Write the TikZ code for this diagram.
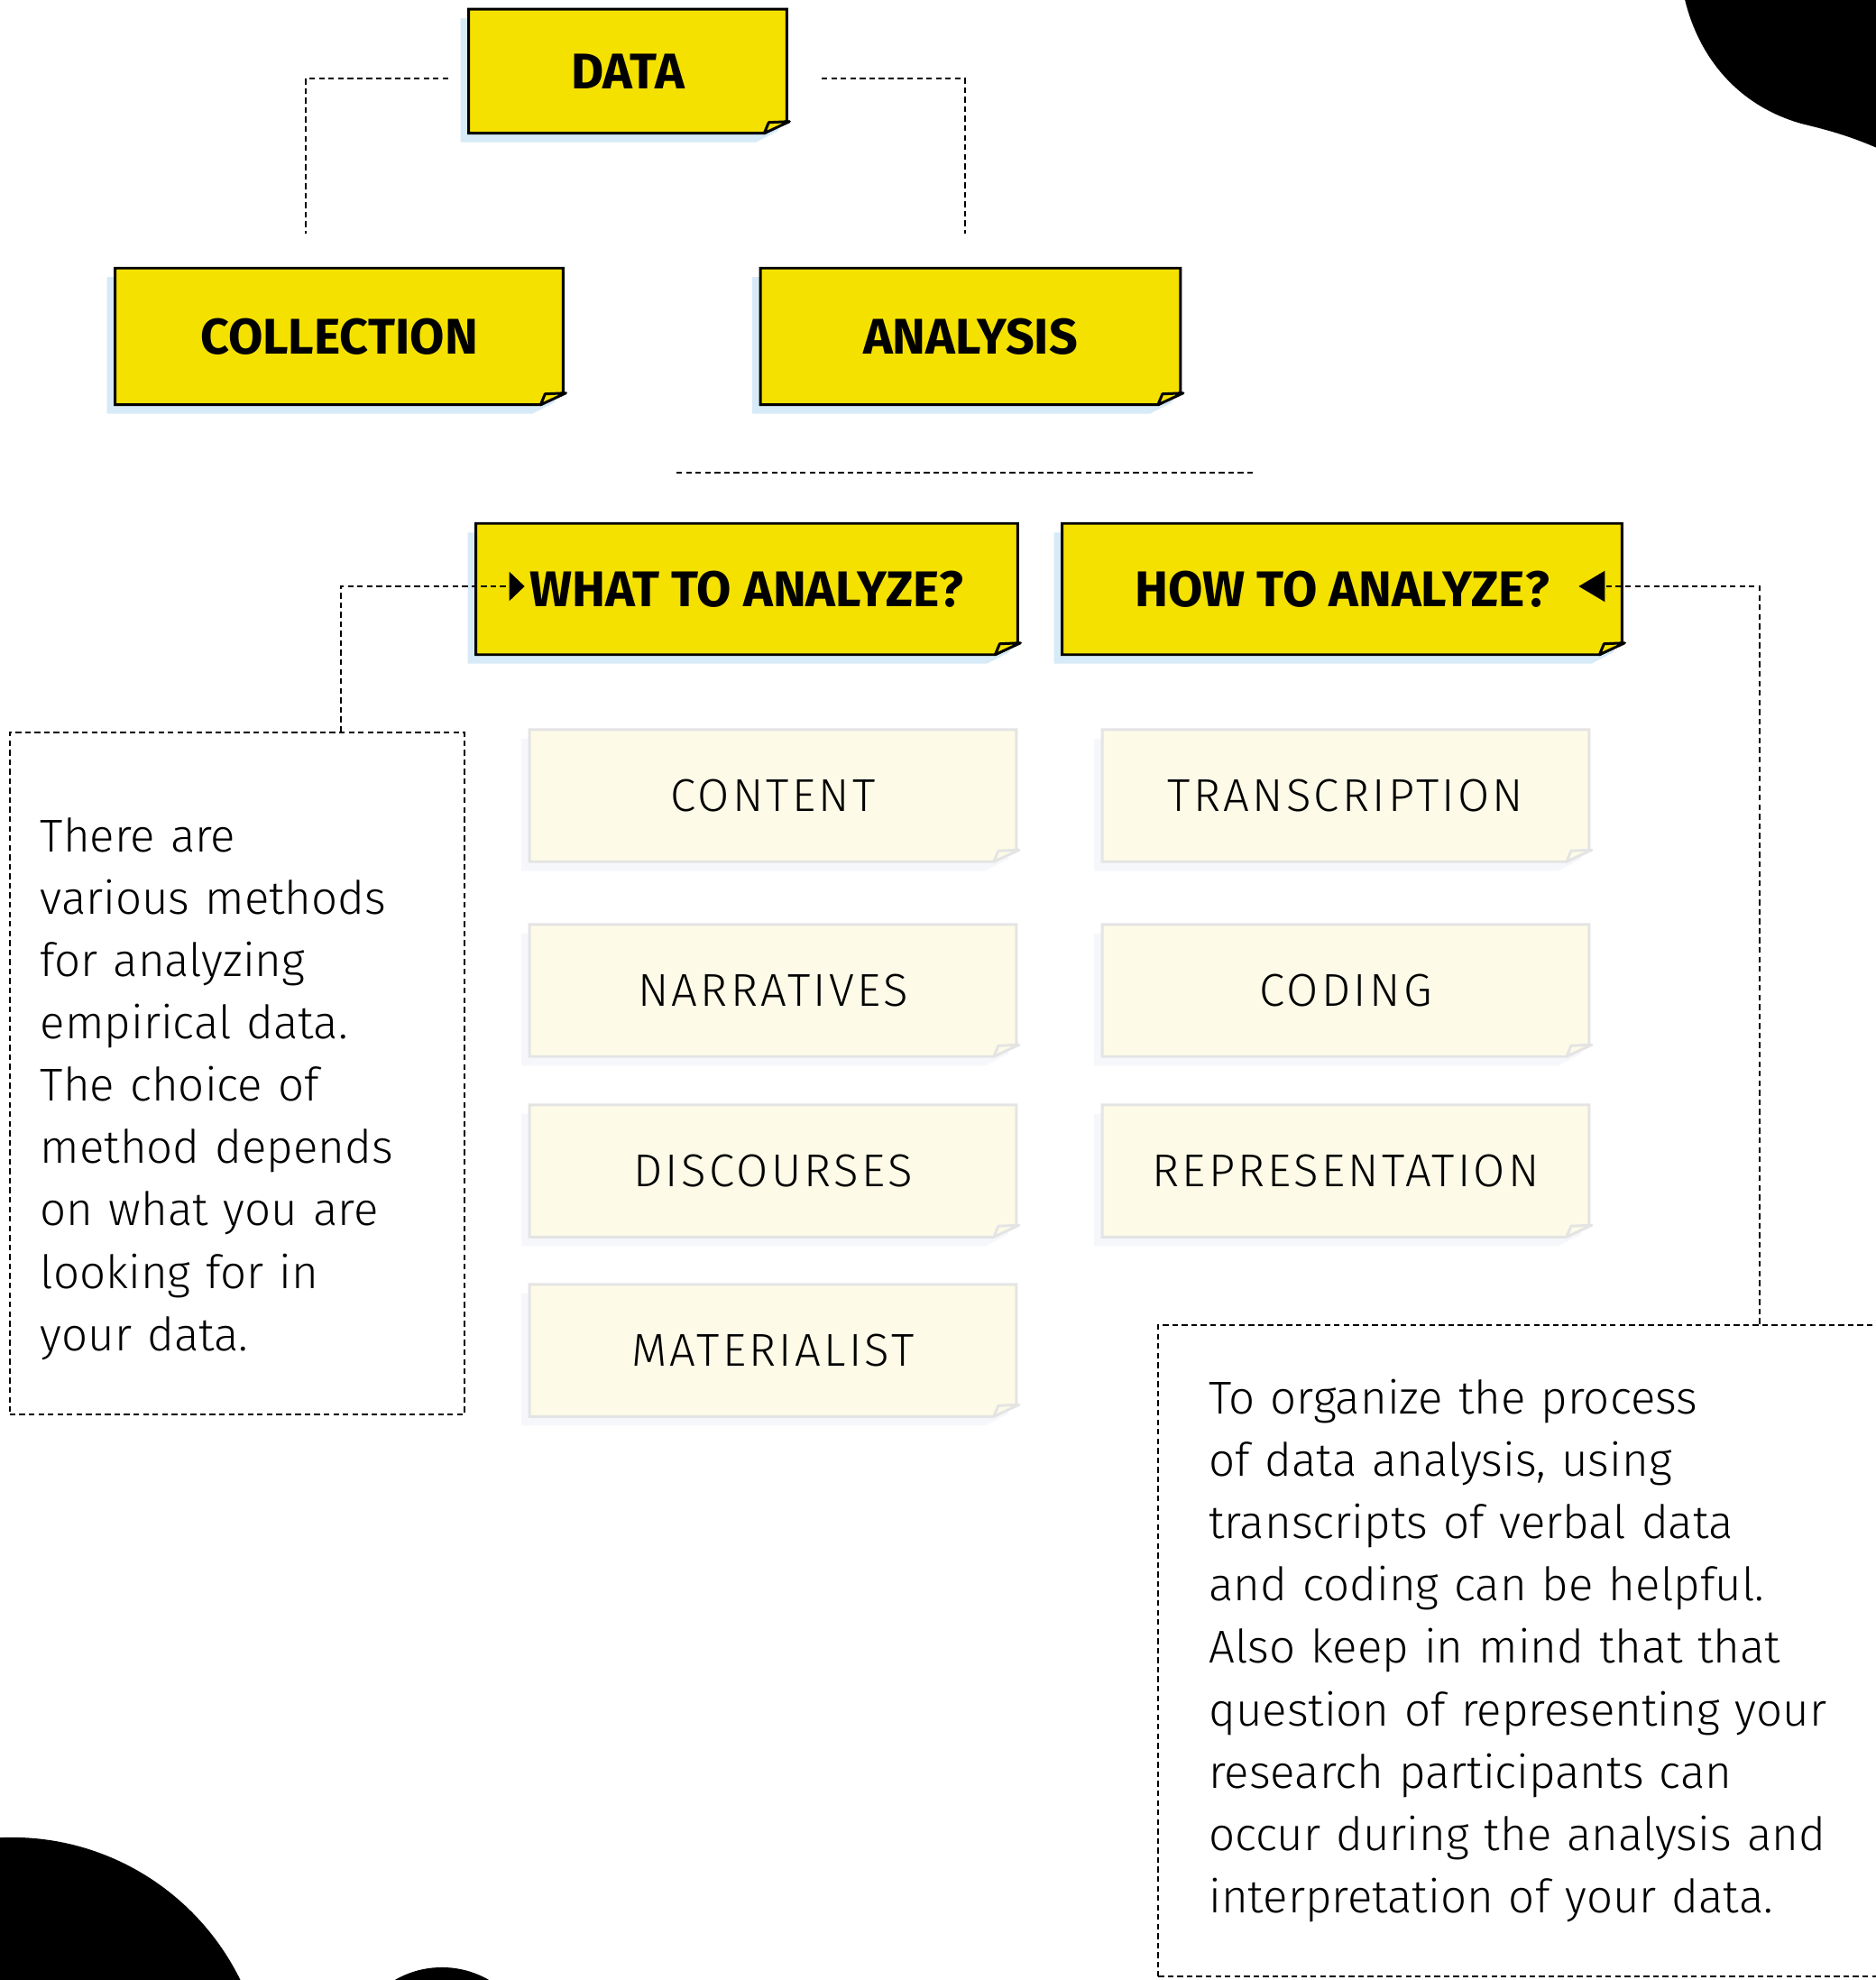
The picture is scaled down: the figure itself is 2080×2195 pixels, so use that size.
\documentclass[tikz,border=0pt]{standalone}
\usepackage{fontspec}
\IfFontExistsTF{Fira Sans Light}
  {\newfontfamily\lightfont{Fira Sans Light}
   \newfontfamily\trackfont{Fira Sans Light}[LetterSpace=6.4]}
  {\newfontfamily\lightfont{Fira Sans}
   \newfontfamily\trackfont{Fira Sans}[LetterSpace=6.4]}
\newfontfamily\heavyfont{Fira Sans}[UprightFont=*, BoldFont=* Bold]
\usepackage{tikz}
\usetikzlibrary{arrows.meta, positioning, calc, backgrounds}

\definecolor{noteyellow}{HTML}{F5E100}
\definecolor{noteshadow}{HTML}{D7EAF7}
\definecolor{paleyellow}{HTML}{FDFBE7}
\definecolor{palegrey}{HTML}{E4E4E4}
\definecolor{paleshadow}{HTML}{F6F7FB}

\begin{document}
\begin{tikzpicture}[
  x=0.01cm, y=-0.01cm,
  ynote/.style = {rectangle, inner sep=0pt, font=\heavyfont\bfseries\fontsize{15.8}{18}\selectfont},
  pnote/.style = {rectangle, inner sep=0pt, minimum width=5.38cm, minimum height=1.45cm,
                  font=\trackfont\fontsize{14.5}{18}\selectfont},
  link/.style  = {draw, line width=0.6pt, dash pattern=on 1.8pt off 1.2pt},
  memo/.style  = {link, rectangle, inner sep=0pt, align=left,
                  font=\lightfont\fontsize{14.5}{19.64}\selectfont},
]
  \useasboundingbox (0,0) rectangle (2080,2195);
  \clip (0,0) rectangle (2080,2195);

  % yellow notes
  \node[ynote, minimum width=3.51cm, minimum height=1.36cm] (data) at (696,79)   {DATA};
  \node[ynote, minimum width=4.95cm, minimum height=1.50cm] (coll) at (376,373)  {COLLECTION};
  \node[ynote, minimum width=4.64cm, minimum height=1.50cm] (anal) at (1076,373) {ANALYSIS};
  \node[ynote, minimum width=5.99cm, minimum height=1.44cm] (what) at (828,653)  {WHAT TO ANALYZE?};
  \node[ynote, minimum width=6.19cm, minimum height=1.44cm] (how)  at (1488,653) {HOW TO ANALYZE?};

  % pale notes
  \node[pnote] (content)  at (857,882)  {CONTENT};
  \node[pnote] (narr)     at (857,1098) {NARRATIVES};
  \node[pnote] (disc)     at (857,1298) {DISCOURSES};
  \node[pnote] (material) at (857,1497) {MATERIALIST};
  \node[pnote] (transc)   at (1492,882)  {TRANSCRIPTION};
  \node[pnote] (coding)   at (1492,1098) {CODING};
  \node[pnote] (repres)   at (1492,1298) {REPRESENTATION};

  % side notes
  \node[memo, minimum width=5.04cm, minimum height=7.55cm, text width=4.36cm] (whatmemo) at (263,1190)
    {\rule{0pt}{0.72cm}There are\\various methods\\for analyzing\\empirical data.\\The choice of\\method depends\\on what you are\\looking for in\\your data.};
  \node[memo, minimum width=8.15cm, minimum height=7.22cm, text width=7.03cm] (howmemo) at (1692,1830)
    {To organize the process\\of data analysis, using\\transcripts of verbal data\\and coding can be helpful.\\Also keep in mind that that\\question of representing your\\research participants can\\occur during the analysis and\\interpretation of your data.};

  \begin{scope}[on background layer]
    \fill[white] (0,0) rectangle (2080,2195);
    \foreach \n in {data, coll, anal, what, how} {
      \fill[noteshadow] ($(\n.north west)+(-9,10)$) -- ($(\n.north east)+(-9,10)$)
        -- ($(\n.south east)+(-9,-3)$) -- ($(\n.south east)+(-34,10)$) -- ($(\n.south west)+(-9,10)$) -- cycle;
      \filldraw[fill=noteyellow, line width=0.85pt] (\n.north west) -- (\n.north east)
        -- ($(\n.south east)+(0,-13)$) -- ($(\n.south east)+(-25,0)$) -- (\n.south west) -- cycle;
      \filldraw[fill=noteyellow, line width=0.85pt, line join=round] ($(\n.south east)+(-25,0)$)
        -- ($(\n.south east)+(-20,-12)$) -- ($(\n.south east)+(3,-13)$) -- cycle;
    }
    \foreach \n in {content, narr, disc, material, transc, coding, repres} {
      \fill[paleshadow] ($(\n.north west)+(-9,10)$) -- ($(\n.north east)+(-9,10)$)
        -- ($(\n.south east)+(-9,-3)$) -- ($(\n.south east)+(-34,10)$) -- ($(\n.south west)+(-9,10)$) -- cycle;
      \filldraw[fill=paleyellow, draw=palegrey, line width=0.85pt] (\n.north west) -- (\n.north east)
        -- ($(\n.south east)+(0,-13)$) -- ($(\n.south east)+(-25,0)$) -- (\n.south west) -- cycle;
      \filldraw[fill=paleyellow, draw=palegrey, line width=0.85pt, line join=round] ($(\n.south east)+(-25,0)$)
        -- ($(\n.south east)+(-20,-12)$) -- ($(\n.south east)+(3,-13)$) -- cycle;
    }
  \end{scope}

  % connectors
  \coordinate (dataL) at (497,87);
  \coordinate (collT) at (339,259);
  \coordinate (dataR) at (911,87);
  \coordinate (analT) at (1070,259);
  \coordinate (splitL) at (750,524);
  \coordinate (splitR) at (1393,524);
  \draw[link] (dataL) -| (collT);
  \draw[link] (dataR) -| (analT);
  \draw[link] (splitL) -- (splitR);
  \draw[link, -{Triangle[length=0.17cm, width=0.32cm]}]
    ([xshift=3.68cm]whatmemo.north west) |- ([xshift=0.54cm, yshift=0.03cm]what.west);
  \draw[link, -{Triangle[length=0.29cm, width=0.34cm]}]
    ([xshift=6.67cm]howmemo.north west) |- ([xshift=-0.48cm, yshift=0.03cm]how.east);

  % corner blobs
  \fill (1867,-5) .. controls (1880,55) and (1920,115) .. (1997,137)
    .. controls (2030,145) and (2055,152) .. (2090,168) -- (2090,-5) -- cycle;
  \fill (13,2319) circle (2.82cm);
  \fill (490,2285) circle (1.04cm);
\end{tikzpicture}
\end{document}
